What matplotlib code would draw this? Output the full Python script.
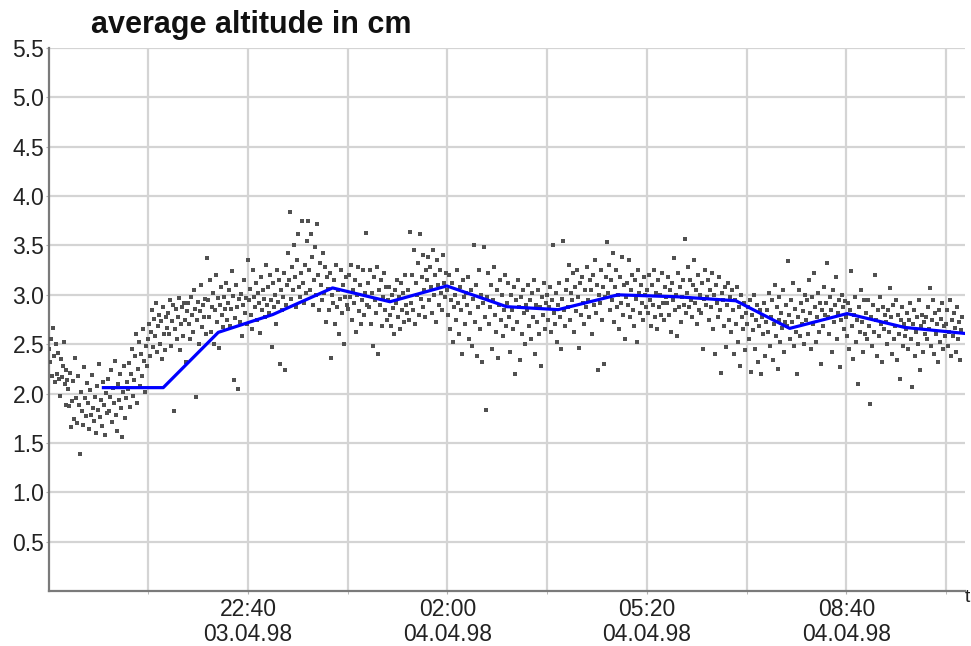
import numpy as np
import matplotlib
matplotlib.use("Agg")
import matplotlib.pyplot as plt

plt.rcParams["font.family"] = ["Liberation Sans", "DejaVu Sans"]

# time axis in hours counted from 03.04.98 00:00 (values > 24 are next day)
start_hour = 19 + 20 / 60        # first sample, 19:20
sample_step = 1 / 60             # one reading per minute
x_max = 34.65

# per-minute altitude readings (cm), 20 readings per row
altitude = [
    2.45, 2.32, 2.55, 2.18, 2.66, 2.38, 2.12, 2.50, 2.20, 2.41, 2.15, 1.98, 2.35, 2.17, 2.28, 2.52, 2.10, 1.88, 2.24, 2.14,
    2.05, 1.87, 2.21, 1.66, 1.92, 2.13, 1.74, 2.36, 1.96, 1.70, 2.18, 1.88, 1.39, 2.02, 1.82, 1.68, 2.27, 1.95, 1.77, 2.11,
    1.90, 1.64, 2.04, 1.78, 2.19, 1.85, 1.72, 1.97, 1.60, 2.08, 1.83, 2.30, 1.76, 1.93, 1.67, 2.12, 1.88, 1.58, 2.01, 1.80,
    2.15, 1.82, 1.97, 2.24, 1.71, 2.06, 1.90, 2.33, 1.78, 1.62, 2.10, 1.93, 2.20, 1.85, 1.56, 2.02, 2.28, 1.75, 1.95, 2.12,
    2.05, 2.31, 1.86, 2.20, 2.45, 1.98, 2.14, 2.38, 2.60, 1.90, 2.25, 2.52, 2.08, 2.40, 2.18, 2.65, 2.33, 2.02, 2.48, 2.28,
    2.55, 2.70, 2.38, 2.62, 2.85, 2.47, 2.76, 2.58, 2.92, 2.42, 2.68, 2.80, 2.50, 2.73, 2.35, 2.88, 2.60, 2.44, 2.78, 2.66,
    2.82, 2.60, 2.95, 2.48, 2.73, 2.90, 1.82, 2.65, 2.86, 2.55, 2.78, 2.97, 2.44, 2.70, 2.88, 2.58, 2.92, 2.75, 2.32, 2.84,
    2.92, 2.70, 2.55, 2.98, 2.80, 2.62, 3.05, 2.86, 1.97, 2.74, 2.93, 2.50, 2.84, 3.10, 2.67, 2.90, 2.78, 2.96, 2.60, 3.37,
    2.95, 2.78, 3.15, 2.62, 2.88, 3.02, 2.50, 2.85, 3.20, 2.72, 2.97, 2.46, 2.90, 3.08, 2.80, 2.67, 2.98, 2.86, 3.12, 2.75,
    2.92, 3.05, 2.68, 2.86, 3.24, 2.99, 2.14, 2.77, 3.10, 2.88, 2.05, 2.96, 2.72, 3.01, 2.58, 2.90, 3.15, 2.82, 2.97, 2.70,
    3.35, 2.95, 3.06, 2.80, 2.65, 3.25, 2.98, 2.88, 3.12, 2.75, 3.02, 2.92, 2.61, 3.18, 2.85, 3.05, 2.96, 2.78, 3.30, 2.90,
    3.08, 2.82, 3.20, 2.95, 2.47, 3.12, 2.88, 3.00, 2.70, 3.25, 2.93, 3.15, 2.30, 3.05, 2.85, 2.98, 3.22, 2.24, 2.90, 3.10,
    3.42, 3.15, 3.84, 2.96, 3.28, 3.05, 3.50, 3.18, 2.88, 3.35, 3.62, 3.08, 2.98, 3.22, 3.75, 3.12, 2.92, 3.30, 3.02, 3.55,
    3.75, 3.25, 3.05, 3.62, 3.38, 2.90, 3.15, 3.48, 3.00, 3.72, 3.20, 2.85, 3.32, 3.10, 2.95, 3.42, 3.02, 3.28, 2.72, 3.18,
    3.06, 2.85, 3.22, 2.36, 3.00, 2.92, 3.15, 2.70, 3.30, 2.88, 3.05, 2.60, 2.96, 3.25, 2.82, 3.10, 2.50, 2.98, 3.18, 2.90,
    2.86, 3.20, 2.98, 3.30, 2.75, 3.05, 2.92, 3.15, 2.62, 3.00, 3.28, 2.84, 3.10, 2.70, 2.95, 3.25, 2.80, 3.02, 3.63, 2.90,
    3.12, 2.88, 3.25, 2.70, 3.02, 2.48, 3.18, 2.95, 2.82, 3.28, 2.40, 3.05, 2.90, 3.15, 2.68, 2.98, 3.22, 2.85, 3.08, 2.75,
    2.95, 3.08, 2.80, 2.68, 3.00, 2.87, 2.60, 3.05, 2.92, 3.15, 2.78, 2.98, 2.65, 3.12, 2.85, 3.02, 2.72, 3.20, 2.90, 2.82,
    3.05, 2.75, 3.64, 2.92, 3.20, 2.85, 3.45, 2.70, 3.12, 3.00, 3.32, 2.80, 3.62, 2.96, 3.18, 2.88, 3.40, 3.05, 2.78, 3.25,
    3.15, 3.38, 2.95, 3.28, 3.08, 2.82, 3.45, 3.00, 3.20, 2.72, 3.35, 3.10, 2.90, 3.25, 3.02, 2.85, 3.40, 3.12, 2.98, 3.22,
    3.05, 2.80, 3.20, 2.65, 2.95, 3.12, 2.52, 2.88, 3.00, 2.74, 3.25, 2.92, 2.60, 3.08, 2.85, 2.40, 3.15, 2.98, 2.70, 3.02,
    2.90, 3.18, 2.55, 2.82, 3.05, 2.48, 2.96, 3.50, 2.72, 3.10, 2.38, 2.88, 3.25, 2.65, 3.00, 2.32, 2.92, 3.48, 2.78, 1.83,
    2.98, 3.22, 2.70, 2.88, 3.10, 2.45, 2.95, 3.28, 2.80, 2.62, 3.05, 2.36, 2.90, 3.15, 2.75, 3.00, 2.58, 2.85, 3.20, 2.68,
    2.92, 3.12, 2.78, 2.42, 3.00, 2.85, 2.65, 3.08, 2.20, 2.95, 2.72, 3.15, 2.88, 2.34, 2.98, 2.60, 3.05, 2.82, 2.50, 2.90,
    2.85, 3.10, 2.68, 2.95, 2.55, 3.02, 2.78, 3.15, 2.40, 2.90, 2.72, 3.05, 2.60, 2.88, 2.28, 2.98, 2.80, 3.12, 2.65, 2.92,
    3.00, 2.75, 2.88, 3.08, 2.62, 2.95, 3.50, 2.82, 2.70, 3.02, 2.52, 2.90, 3.12, 2.78, 2.45, 2.96, 3.55, 2.85, 2.68, 3.05,
    3.15, 2.88, 3.30, 2.75, 3.02, 2.95, 3.22, 2.62, 3.08, 2.84, 3.25, 2.98, 2.46, 3.12, 2.80, 3.18, 2.92, 2.70, 3.05, 2.88,
    3.28, 2.95, 2.78, 3.15, 3.05, 2.60, 3.20, 2.90, 3.35, 2.82, 3.10, 2.24, 3.00, 2.92, 3.25, 2.74, 3.08, 2.30, 2.98, 3.18,
    3.54, 3.02, 3.30, 2.85, 3.15, 2.95, 3.42, 2.72, 3.08, 3.25, 2.88, 3.00, 2.65, 3.18, 2.92, 3.38, 2.80, 3.10, 2.55, 2.98,
    3.12, 2.90, 3.35, 2.78, 3.05, 3.20, 2.85, 2.68, 3.15, 2.96, 2.52, 3.25, 3.02, 2.82, 3.10, 2.92, 2.74, 3.18, 3.00, 2.88,
    3.05, 2.82, 3.20, 2.95, 2.68, 3.10, 2.90, 3.25, 2.78, 3.02, 2.65, 3.15, 2.88, 3.00, 2.80, 3.22, 2.92, 2.75, 3.08, 2.98,
    2.92, 3.18, 2.80, 3.05, 2.62, 3.12, 2.95, 3.37, 2.85, 3.00, 2.58, 3.22, 2.88, 3.08, 2.72, 2.98, 3.15, 2.90, 3.57, 2.82,
    3.02, 3.28, 2.88, 3.15, 2.95, 2.78, 3.10, 3.35, 2.92, 3.05, 2.70, 3.20, 2.85, 3.00, 2.82, 3.12, 2.45, 2.96, 3.25, 2.90,
    2.98, 3.15, 2.74, 3.05, 2.88, 3.22, 2.65, 3.00, 2.40, 3.10, 2.92, 2.78, 3.18, 2.85, 2.21, 3.02, 2.95, 2.68, 3.08, 2.47,
    2.90, 3.12, 2.75, 2.98, 2.62, 3.05, 2.85, 2.40, 2.95, 2.70, 3.08, 2.52, 2.88, 2.28, 3.00, 2.78, 2.65, 2.92, 2.44, 2.82,
    2.70, 2.88, 2.55, 2.95, 2.22, 2.80, 2.64, 3.00, 2.45, 2.75, 2.90, 2.32, 2.68, 2.85, 2.20, 2.78, 2.60, 2.92, 2.38, 2.72,
    2.85, 2.62, 3.02, 2.48, 2.78, 2.95, 2.34, 2.70, 3.10, 2.58, 2.88, 2.25, 2.75, 2.98, 2.52, 2.82, 2.66, 3.05, 2.42, 2.72,
    2.90, 2.68, 3.34, 2.80, 2.55, 2.95, 2.72, 3.12, 2.48, 2.86, 2.62, 2.20, 2.78, 3.05, 2.58, 2.92, 2.70, 2.84, 2.50, 3.00,
    2.75, 2.95, 2.60, 3.15, 2.82, 2.45, 2.98, 2.70, 3.22, 2.88, 2.52, 2.78, 3.02, 2.62, 2.92, 2.30, 2.85, 2.68, 3.08, 2.80,
    2.92, 3.32, 2.78, 2.60, 2.98, 2.85, 2.42, 3.05, 2.72, 2.90, 3.18, 2.55, 2.82, 2.95, 2.27, 2.75, 3.00, 2.88, 2.65, 2.94,
    2.78, 2.58, 2.92, 2.45, 2.85, 3.24, 2.68, 2.35, 2.80, 2.98, 2.52, 2.74, 2.10, 2.88, 2.62, 3.05, 2.72, 2.42, 2.95, 2.60,
    2.82, 2.55, 2.95, 2.68, 1.89, 2.78, 2.48, 2.90, 2.62, 3.20, 2.75, 2.38, 2.85, 2.58, 2.98, 2.70, 2.32, 2.88, 2.65, 2.80,
    2.72, 2.50, 2.85, 2.62, 3.07, 2.78, 2.40, 2.90, 2.55, 2.68, 2.95, 2.34, 2.80, 2.60, 2.15, 2.75, 2.88, 2.48, 2.70, 2.58,
    2.65, 2.82, 2.45, 2.75, 2.92, 2.55, 2.07, 2.70, 2.85, 2.38, 2.62, 2.78, 2.50, 2.95, 2.24, 2.68, 2.80, 2.42, 2.72, 2.60,
    2.78, 2.55, 2.88, 2.65, 3.07, 2.48, 2.74, 2.95, 2.40, 2.82, 2.60, 2.70, 2.32, 2.85, 2.52, 2.76, 2.92, 2.45, 2.68, 2.58,
    2.70, 2.85, 2.48, 2.62, 2.95, 2.38, 2.75, 2.58, 2.82, 2.66, 2.42, 2.88, 2.55, 2.72, 2.34, 2.64, 2.78,
]

# hourly running average
avg_hours = [20.25, 21.25, 22.17, 23.08, 24.08, 25.04, 25.99, 26.99,
             27.85, 28.85, 29.85, 30.82, 31.72, 32.68, 33.64, 34.63]
avg_altitude = [2.06, 2.06, 2.62, 2.80, 3.07, 2.93, 3.09, 2.88,
                2.85, 3.00, 2.98, 2.94, 2.66, 2.81, 2.67, 2.61]

major_ticks = [22 + 40 / 60, 26.0, 29 + 20 / 60, 32 + 40 / 60]
major_labels = ["22:40\n03.04.98", "02:00\n04.04.98", "05:20\n04.04.98", "08:40\n04.04.98"]
minor_ticks = [21.0, 24 + 20 / 60, 27 + 40 / 60, 31.0, 34 + 20 / 60]
y_ticks = [0.5, 1.0, 1.5, 2.0, 2.5, 3.0, 3.5, 4.0, 4.5, 5.0, 5.5]

times = start_hour + sample_step * np.arange(len(altitude))

fig = plt.figure(figsize=(9.71, 6.46), dpi=100)
ax = fig.add_axes([0.0500, 0.0851, 0.9438, 0.8406])

ax.scatter(times, altitude, s=5, marker="s", color="#505050", linewidths=0, zorder=3)
ax.plot(avg_hours, avg_altitude, color="#0000ff", lw=2.3, zorder=4)

ax.set_xlim(start_hour, x_max)
ax.set_ylim(0, 5.5)
ax.set_yticks(y_ticks)
ax.set_yticklabels([f"{v:.1f}" for v in y_ticks])
ax.set_xticks(major_ticks)
ax.set_xticklabels(major_labels, linespacing=1.1)
ax.set_xticks(minor_ticks, minor=True)

ax.grid(True, which="both", color="#d4d4d4", lw=1.6, zorder=0)
ax.set_axisbelow(True)

for side in ("top", "right"):
    ax.spines[side].set_visible(False)
for side in ("left", "bottom"):
    ax.spines[side].set_color("#7a7a7a")
    ax.spines[side].set_linewidth(1.6)

ax.tick_params(axis="both", which="both", length=2, color="#b0b0b0",
               labelsize=16.5, labelcolor="#222222", pad=1)
ax.tick_params(axis="x", pad=3)

fig.text(91 / 971, 1 - 25 / 646, "average altitude in cm", fontsize=22,
         fontweight="bold", va="center", ha="left", color="#111111")
fig.text(965 / 971, 1 - 597 / 646, "t", fontsize=14, va="center", ha="left",
         color="#222222")

fig.savefig("out.png", dpi=100)
